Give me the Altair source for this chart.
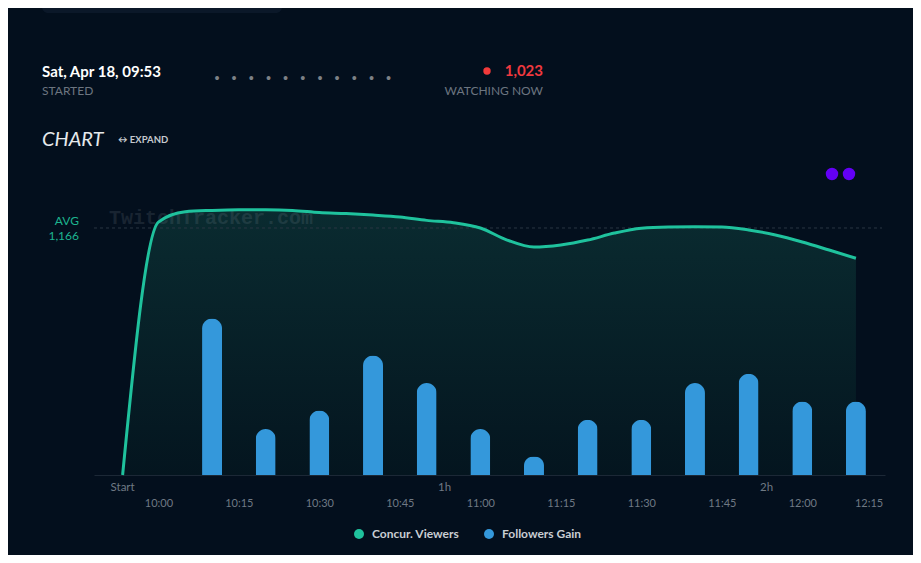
import altair as alt
import pandas as pd

DAY = "2020-04-18T"

# ---- data ----
viewer_times = ["09:53:20", "10:00", "10:05", "10:10", "10:15", "10:20", "10:25", "10:30",
                "10:35", "10:40", "10:45", "10:50", "10:55", "11:00", "11:05", "11:10",
                "11:15", "11:20", "11:25", "11:30", "11:35", "11:40", "11:45", "11:50",
                "11:55", "12:00", "12:05", "12:10"]
viewer_values = [0, 1194, 1243, 1249, 1252, 1252, 1249, 1239, 1234, 1227, 1218, 1202, 1191,
                 1166, 1109, 1076, 1086, 1109, 1142, 1165, 1171, 1172, 1171, 1157, 1133,
                 1100, 1062, 1023]

follower_times = ["10:10", "10:20", "10:30", "10:40", "10:50", "11:00", "11:10", "11:20",
                  "11:30", "11:40", "11:50", "12:00", "12:10"]
follower_values = [17, 5, 7, 13, 10, 5, 2, 6, 6, 10, 11, 8, 8]

tick_hours = [10, 10, 10, 10, 11, 11, 11, 11, 12, 12]
tick_minutes = [0, 15, 30, 45, 0, 15, 30, 45, 0, 15]

elapsed_labels = ["Start", "1h", "2h"]
elapsed_times = ["09:53:20", "10:53:20", "11:53:20"]

avg_viewers = 1166
series_names = ["Concur. Viewers", "Followers Gain"]
series_colors = ["#1fc29d", "#3498db"]

header_date = "Sat, Apr 18, 09:53"
watching_now = "1,023"
page_dots = " ".join(["•"] * 11)

# ---- styling ----
BG = "#030f1d"
AXIS_TXT = "#6f7984"
W, H = 791, 315

def ts(t):
    return DAY + (t if t.count(":") == 2 else t + ":00")

viewers = pd.DataFrame({"time": [ts(t) for t in viewer_times], "viewers": viewer_values})
followers = pd.DataFrame({"time": [ts(t) for t in follower_times], "gain": follower_values})
elapsed = pd.DataFrame({"time": [ts(t) for t in elapsed_times], "label": elapsed_labels})
legend_df = pd.DataFrame({"series": series_names})
avg_df = pd.DataFrame({"avg": [avg_viewers], "t1": ["AVG"], "t2": [f"{avg_viewers:,}"]})

def dt(h, m, s=0):
    return alt.DateTime(year=2020, month=4, date=18, hours=h, minutes=m, seconds=s)

x_scale = alt.Scale(domain=[dt(9, 48), dt(12, 15, 25)], padding=0, nice=False)
vy = alt.Scale(domain=[0, 1487], nice=False, padding=0)
fy = alt.Scale(domain=[0, 34.24], nice=False, padding=0)

x_axis = alt.Axis(values=[dt(h, m) for h, m in zip(tick_hours, tick_minutes)],
                  format="%H:%M", title=None, grid=False, ticks=False, tickSize=0,
                  labelColor=AXIS_TXT, labelFont="Lato", labelFontSize=11,
                  labelPadding=22, labelFlush=6, labelOverlap=False,
                  domain=True, domainColor="#1c2836", domainWidth=1)

X = alt.X("time:T", scale=x_scale, axis=x_axis)

area = alt.Chart(viewers).mark_area(
    interpolate="monotone",
    color=alt.Gradient(gradient="linear",
                       stops=[alt.GradientStop(color="#0a2b30", offset=0),
                              alt.GradientStop(color="#04151f", offset=1)],
                       x1=0, x2=0, y1=0, y2=1)
).encode(x=X, y=alt.Y("viewers:Q", scale=vy, axis=None))

watermark = alt.Chart(pd.DataFrame({"t": ["TwitchTracker.com"]})).mark_text(
    font="Liberation Mono", fontWeight="bold", fontSize=20, color="#a8b0b8", opacity=0.13,
    align="left", baseline="middle"
).encode(x=alt.value(15), y=alt.value(58), text="t:N")

avg_rule = alt.Chart(avg_df).mark_rule(color="#2a3643", strokeDash=[3, 3], strokeWidth=1).encode(
    y=alt.Y("avg:Q", scale=vy, axis=None), x=alt.value(0), x2=alt.value(W - 3))

avg_t1 = alt.Chart(avg_df).mark_text(align="right", baseline="middle", dy=-7, dx=-15,
                                     color="#1db48f", fontSize=12, font="Lato").encode(
    y=alt.Y("avg:Q", scale=vy, axis=None), x=alt.value(0), text="t1:N")
avg_t2 = alt.Chart(avg_df).mark_text(align="right", baseline="middle", dy=8, dx=-15,
                                     color="#1db48f", fontSize=12, font="Lato").encode(
    y=alt.Y("avg:Q", scale=vy, axis=None), x=alt.value(0), text="t2:N")

line = alt.Chart(viewers).mark_line(interpolate="monotone", color=series_colors[0],
                                    strokeWidth=3).encode(
    x=X, y=alt.Y("viewers:Q", scale=vy, axis=None))

bars = alt.Chart(followers).mark_bar(width=20, color=series_colors[1],
                                     cornerRadiusTopLeft=10, cornerRadiusTopRight=10).encode(
    x=X, y=alt.Y("gain:Q", scale=fy, axis=None))

elapsed_txt = alt.Chart(elapsed).mark_text(baseline="middle", align="center", color=AXIS_TXT,
                                           fontSize=11.5, font="Lato").encode(
    x=X, y=alt.value(H + 13), text="label:N")

# legend (real Altair legend from an off-canvas helper layer)
legend_layer = alt.Chart(legend_df).mark_circle(opacity=1, size=95).encode(
    x=alt.value(-600), y=alt.value(-600),
    color=alt.Color("series:N",
                    scale=alt.Scale(domain=series_names, range=series_colors),
                    legend=alt.Legend(orient="none", legendX=259, legendY=368,
                                      direction="horizontal", title=None,
                                      symbolType="circle", symbolSize=100,
                                      symbolStrokeWidth=0, symbolOpacity=1,
                                      labelFont="Lato", labelFontWeight="bold",
                                      labelFontSize=12, labelColor="#c9cdd3",
                                      labelOffset=7, columnPadding=23, padding=0)))

# header decorations
def label(txt, x, y, **kw):
    return alt.Chart(pd.DataFrame({"t": [txt]})).mark_text(baseline="middle", **kw).encode(
        x=alt.value(x), y=alt.value(y), text="t:N")

top_box = alt.Chart(pd.DataFrame({"a": [0]})).mark_rect(color="#0b1829", cornerRadius=6).encode(
    x=alt.value(-52), x2=alt.value(188), y=alt.value(-170), y2=alt.value(-147))

hdr_date = label(header_date, -52, -88, align="left", font="Lato", fontWeight="bold",
                 fontSize=15, color="#ffffff")
hdr_started = label("STARTED", -52, -69, align="left", font="Lato", fontSize=12,
                    color="#6c7580")
hdr_now = label(watching_now, 449, -89, align="right", font="Lato", fontWeight="bold",
                fontSize=15, color="#f0393f")
hdr_watch = label("WATCHING NOW", 449, -69, align="right", font="Lato", fontSize=12,
                  color="#6c7580")
hdr_chart = label("CHART", -52, -20, align="left", font="Lato", fontStyle="italic",
                  fontSize=20, color="#e6e9ec")
hdr_expand = label("↔ EXPAND", 24, -20, align="left", font="Lato", fontWeight="bold",
                   fontSize=9.5, color="#c5c9ce")
hdr_dots = label(page_dots, 118.7, -81, align="left", font="Liberation Mono",
                 fontSize=14.3, color="#7d8186")

red_dot = alt.Chart(pd.DataFrame({"a": [0]})).mark_circle(size=55, color="#f23a3a", opacity=1).encode(
    x=alt.value(393), y=alt.value(-89))
purple1 = alt.Chart(pd.DataFrame({"a": [0]})).mark_circle(size=154, color="#6300f6", opacity=1).encode(
    x=alt.value(738), y=alt.value(14))
purple2 = alt.Chart(pd.DataFrame({"a": [0]})).mark_circle(size=154, color="#6300f6", opacity=1).encode(
    x=alt.value(755), y=alt.value(14))

chart = alt.layer(
    area, watermark, avg_rule, line, bars, elapsed_txt, avg_t1, avg_t2,
    legend_layer, top_box, hdr_date, hdr_started, hdr_now, hdr_watch,
    hdr_chart, hdr_expand, hdr_dots, red_dot, purple1, purple2
).resolve_scale(y="independent").properties(
    width=W, height=H,
    autosize=alt.AutoSizeParams(type="none"),
    padding={"left": 86, "top": 152, "right": 28, "bottom": 80},
    background=BG,
).configure(font="Lato").configure_view(stroke=None)

chart.save("out.html", embed_options={"renderer": "svg", "actions": False})
